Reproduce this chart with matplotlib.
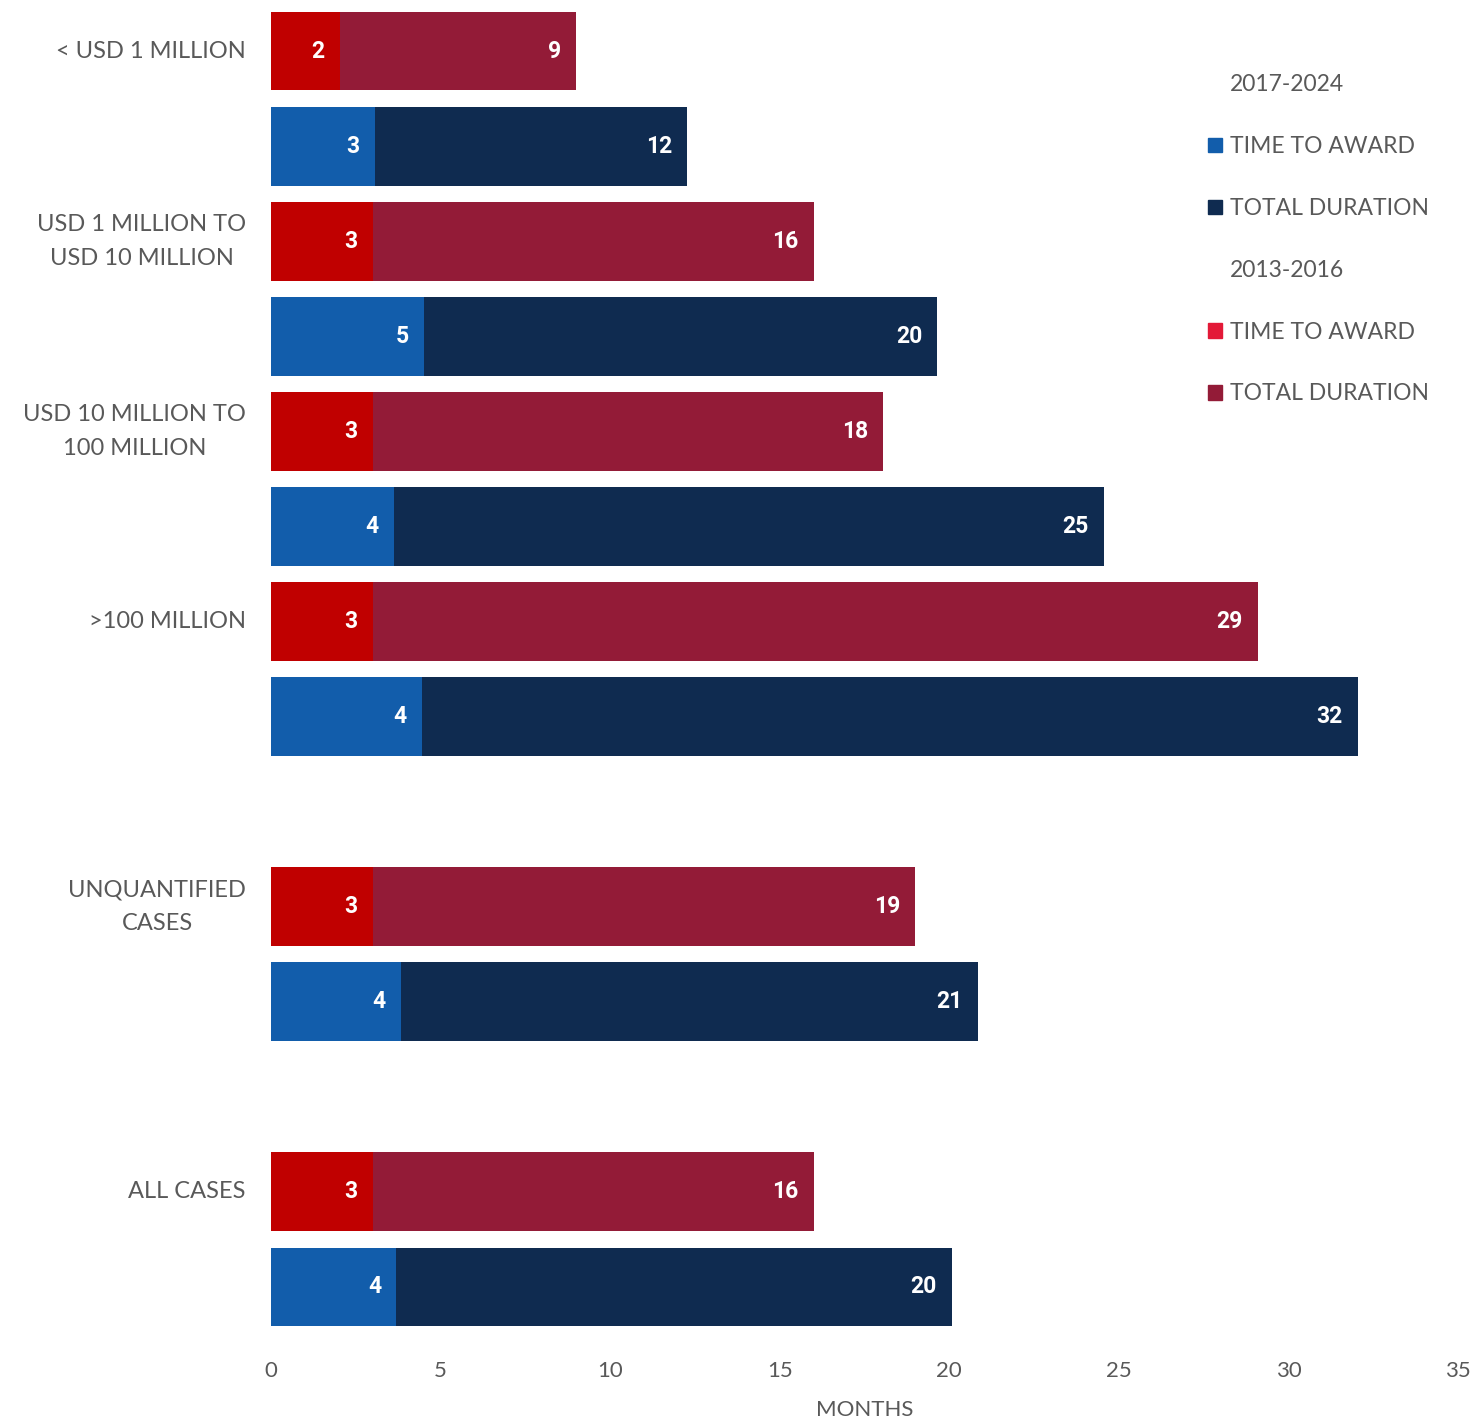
import matplotlib
matplotlib.use("Agg")
import matplotlib.pyplot as plt
from matplotlib.patches import Patch

plt.rcParams['font.family'] = ['Lato', 'DejaVu Sans']

categories = ["< USD 1 MILLION", "USD 1 MILLION TO\nUSD 10 MILLION", "USD 10 MILLION TO\n100 MILLION",
              ">100 MILLION", "UNQUANTIFIED\nCASES", "ALL CASES"]
# 2013-2016
old_award = [2.03, 3.0, 3.0, 3.0, 3.0, 3.0]
old_total = [9.0, 16.0, 18.05, 29.1, 19.0, 16.0]
# 2017-2024
new_award = [3.07, 4.52, 3.63, 4.45, 3.83, 3.7]
new_total = [12.27, 19.65, 24.55, 32.05, 20.85, 20.08]
xticks = [0, 5, 10, 15, 20, 25, 30, 35]

c_old_award = "#C00000"
c_old_total = "#931B37"
c_old_award_leg = "#E31937"
c_new_award = "#125DAB"
c_new_total = "#0F2B50"
grey = "#595959"

# slot positions (with empty slots between groups)
old_pos = [0, 2, 4, 6, 9, 12]
new_pos = [1, 3, 5, 7, 10, 13]

fig = plt.figure(figsize=(14.78, 14.23), dpi=100)
ax = fig.add_axes([271/1478, 1 - 1334.5/1423, (1458-271)/1478, (1334.5-3.5)/1423])

h = 0.83
ax.barh(old_pos, old_total, height=h, color=c_old_total, zorder=2)
ax.barh(old_pos, old_award, height=h, color=c_old_award, zorder=3)
ax.barh(new_pos, new_total, height=h, color=c_new_total, zorder=2)
ax.barh(new_pos, new_award, height=h, color=c_new_award, zorder=3)

def lab(x, y, v):
    ax.annotate(f"{int(v + 0.5):d}", xy=(x, y), xytext=(-11, 0), textcoords="offset points",
                ha="right", va="center", color="white", fontsize=16.5, fontweight="bold",
                family=["Roboto", "DejaVu Sans"], zorder=5)

for i in range(len(categories)):
    lab(old_award[i], old_pos[i], old_award[i])
    lab(old_total[i], old_pos[i], old_total[i])
    lab(new_award[i], new_pos[i], new_award[i])
    lab(new_total[i], new_pos[i], new_total[i])

ax.set_xlim(0, 35)
ax.set_ylim(13.5, -0.5)
ax.set_xticks(xticks)
ax.set_xticklabels([str(t) for t in xticks])
ax.set_yticks(old_pos)
ax.set_yticklabels(categories, ha="right", va="center", multialignment="center", linespacing=1.75)
ax.tick_params(axis="y", length=0, pad=18, labelsize=17, labelcolor=grey)
ax.tick_params(axis="x", length=0, pad=19, labelsize=16, labelcolor=grey)
for s in ax.spines.values():
    s.set_visible(False)
ax.set_xlabel("MONTHS", fontsize=16, color=grey, labelpad=14)

handles = [Patch(visible=False), Patch(color=c_new_award), Patch(color=c_new_total),
           Patch(visible=False), Patch(color=c_old_award_leg), Patch(color=c_old_total)]
labels = ["2017-2024", "TIME TO AWARD", "TOTAL DURATION", "2013-2016", "TIME TO AWARD", "TOTAL DURATION"]
leg = fig.legend(handles, labels, loc="upper left", bbox_to_anchor=(1197/1478, 1 - 63/1423),
                 frameon=False, fontsize=16.5, handlelength=0.6, handleheight=0.6,
                 handletextpad=0.35, labelspacing=1.78, borderpad=0)
for t in leg.get_texts():
    t.set_color(grey)

fig.savefig("out.png", dpi=100)
